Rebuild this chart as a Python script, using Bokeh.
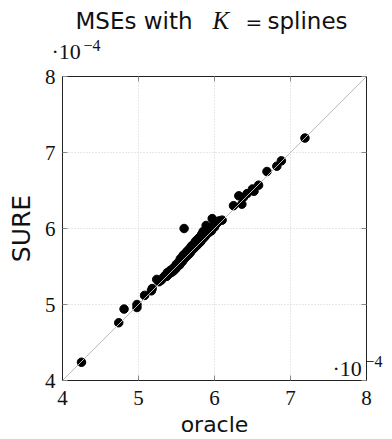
import math
from bokeh.plotting import figure
from bokeh.models import Label, LinearAxis, FixedTicker, Slope, Range1d
from bokeh.layouts import column
from bokeh.embed import file_html
from bokeh.resources import INLINE

# values in units of 1e-4
oracle = [4.25, 4.74, 4.81, 4.98, 4.98, 5.08, 5.17, 5.18, 5.24, 5.27,
          5.30, 5.33, 5.35, 5.37, 5.38, 5.40, 5.42, 5.43, 5.45, 5.46,
          5.48, 5.49, 5.50, 5.51, 5.53, 5.54, 5.55, 5.56, 5.57, 5.58,
          5.59, 5.60, 5.61, 5.62, 5.63, 5.64, 5.65, 5.66, 5.67, 5.68,
          5.69, 5.70, 5.71, 5.72, 5.73, 5.74, 5.75, 5.76, 5.77, 5.78,
          5.79, 5.80, 5.81, 5.82, 5.83, 5.84, 5.85, 5.86, 5.87, 5.88,
          5.89, 5.90, 5.92, 5.93, 5.95, 5.96, 5.97, 5.98, 6.00, 6.02,
          6.04, 6.06, 6.10, 5.60,
          6.25, 6.32, 6.36, 6.38, 6.43, 6.50, 6.52, 6.58, 6.69, 6.82,
          6.88, 7.19]
sure = [4.24, 4.76, 4.94, 5.00, 4.96, 5.12, 5.18, 5.21, 5.33, 5.30,
        5.32, 5.36, 5.38, 5.37, 5.42, 5.40, 5.45, 5.42, 5.47, 5.44,
        5.50, 5.47, 5.53, 5.50, 5.56, 5.52, 5.60, 5.55, 5.62, 5.57,
        5.65, 5.60, 5.66, 5.62, 5.69, 5.64, 5.71, 5.66, 5.73, 5.68,
        5.76, 5.71, 5.78, 5.73, 5.80, 5.75, 5.83, 5.77, 5.85, 5.79,
        5.87, 5.81, 5.89, 5.83, 5.92, 5.86, 5.96, 5.88, 5.94, 5.90,
        6.04, 5.93, 5.98, 5.95, 6.00, 5.97, 6.13, 6.03, 6.02, 6.06,
        6.08, 6.10, 6.11, 6.00,
        6.30, 6.43, 6.32, 6.41, 6.46, 6.52, 6.49, 6.57, 6.75, 6.82,
        6.89, 7.19]
ticks = [4, 5, 6, 7, 8]

TXT = "#111111"
L, R = 62, 26          # left / right borders shared by both figures
W = 392
TH = 64                # height of the title strip
MT = 76 - TH           # top border of the main plot (frame top at window y=76)


def xd(px):
    # window pixel -> data x (frame spans 62..366 for 4..8)
    return 4 + (px - L) / 76


def yd(py):
    # window pixel -> data y in the main plot (frame spans 380..76 for 4..8)
    return 4 + (380 - py) / 76


# ---- title strip: y data == window pixel row ----
t = figure(width=W, height=TH, x_range=Range1d(4, 8), y_range=Range1d(TH, 0),
           output_backend="svg", toolbar_location=None,
           x_axis_location=None, y_axis_location=None,
           min_border_left=L, min_border_right=R,
           min_border_top=0, min_border_bottom=0, outline_line_color=None)
t.grid.visible = False
t.add_layout(Label(x=xd(75), y=20, text="MSEs with", text_font="DejaVu Sans",
                   text_font_size="23px", text_baseline="middle", text_color=TXT))
t.add_layout(Label(x=xd(212), y=20, text="K", text_font="Liberation Serif",
                   text_font_style="italic", text_font_size="25px",
                   text_baseline="middle", text_color=TXT))
t.add_layout(Label(x=xd(245), y=21, text="=", text_font="DejaVu Sans",
                   text_font_size="20px", text_baseline="middle", text_color=TXT))
t.add_layout(Label(x=xd(267), y=20, text="splines", text_font="DejaVu Sans",
                   text_font_size="23px", text_baseline="middle", text_color=TXT))
t.add_layout(Label(x=xd(51), y=51, text="·10", text_font="Liberation Serif",
                   text_font_size="22px", text_baseline="middle", text_color=TXT), "left")
t.add_layout(Label(x=xd(83), y=45, text="−4", text_font="Liberation Serif",
                   text_font_size="16px", text_baseline="middle", text_color=TXT))

# ---- main plot: frame at window x 62..366, y 76..380 ----
p = figure(width=W, height=439 - TH, x_range=(4, 8), y_range=(4, 8),
           output_backend="svg", toolbar_location=None,
           min_border_left=L, min_border_right=R,
           min_border_top=MT, min_border_bottom=59)
p.outline_line_color = "#222222"
p.outline_line_width = 1

for ax in [p.xaxis[0], p.yaxis[0]]:
    ax.ticker = FixedTicker(ticks=ticks)
    ax.major_label_text_font = "Liberation Serif"
    ax.major_label_text_font_size = "21px"
    ax.major_label_text_color = TXT
    ax.major_tick_in = 5
    ax.major_tick_out = 0
    ax.major_tick_line_color = "#888888"
    ax.minor_tick_line_color = None
    ax.axis_line_color = "#222222"
    ax.axis_label_text_font = "DejaVu Sans"
    ax.axis_label_text_font_style = "normal"
    ax.axis_label_text_color = TXT
p.xaxis.major_label_standoff = 10
p.yaxis.major_label_standoff = 7
p.xaxis.axis_label = "oracle"
p.xaxis.axis_label_text_font_size = "22px"
p.xaxis.axis_label_standoff = 4
p.yaxis.axis_label = "SURE"
p.yaxis.axis_label_text_font_size = "25px"
p.yaxis.axis_label_standoff = 6

for loc in ["right", "above"]:
    ax = LinearAxis(ticker=FixedTicker(ticks=ticks))
    ax.major_label_text_font_size = "0px"
    ax.major_label_text_color = None
    ax.major_tick_in = 5
    ax.major_tick_out = 0
    ax.major_tick_line_color = "#888888"
    ax.minor_tick_line_color = None
    ax.axis_line_color = "#222222"
    p.add_layout(ax, loc)

p.grid.ticker = FixedTicker(ticks=ticks)
p.grid.grid_line_color = "#d0d0d0"
p.grid.grid_line_dash = "1 2"
p.grid.grid_line_width = 1

p.add_layout(Slope(gradient=1, y_intercept=0, line_color="#bbbbbb", line_width=1))
p.scatter(oracle, sure, size=8.5, color="black")

# bottom-right multiplier
p.add_layout(Label(x=xd(332), y=yd(368), text="·10",
                   text_font="Liberation Serif", text_font_size="22px",
                   text_baseline="middle", text_color=TXT))
p.add_layout(Label(x=xd(365), y=yd(361), text="−4",
                   text_font="Liberation Serif", text_font_size="16px",
                   text_baseline="middle", text_color=TXT), "right")

open("out.html", "w").write(file_html(column(t, p), INLINE))
